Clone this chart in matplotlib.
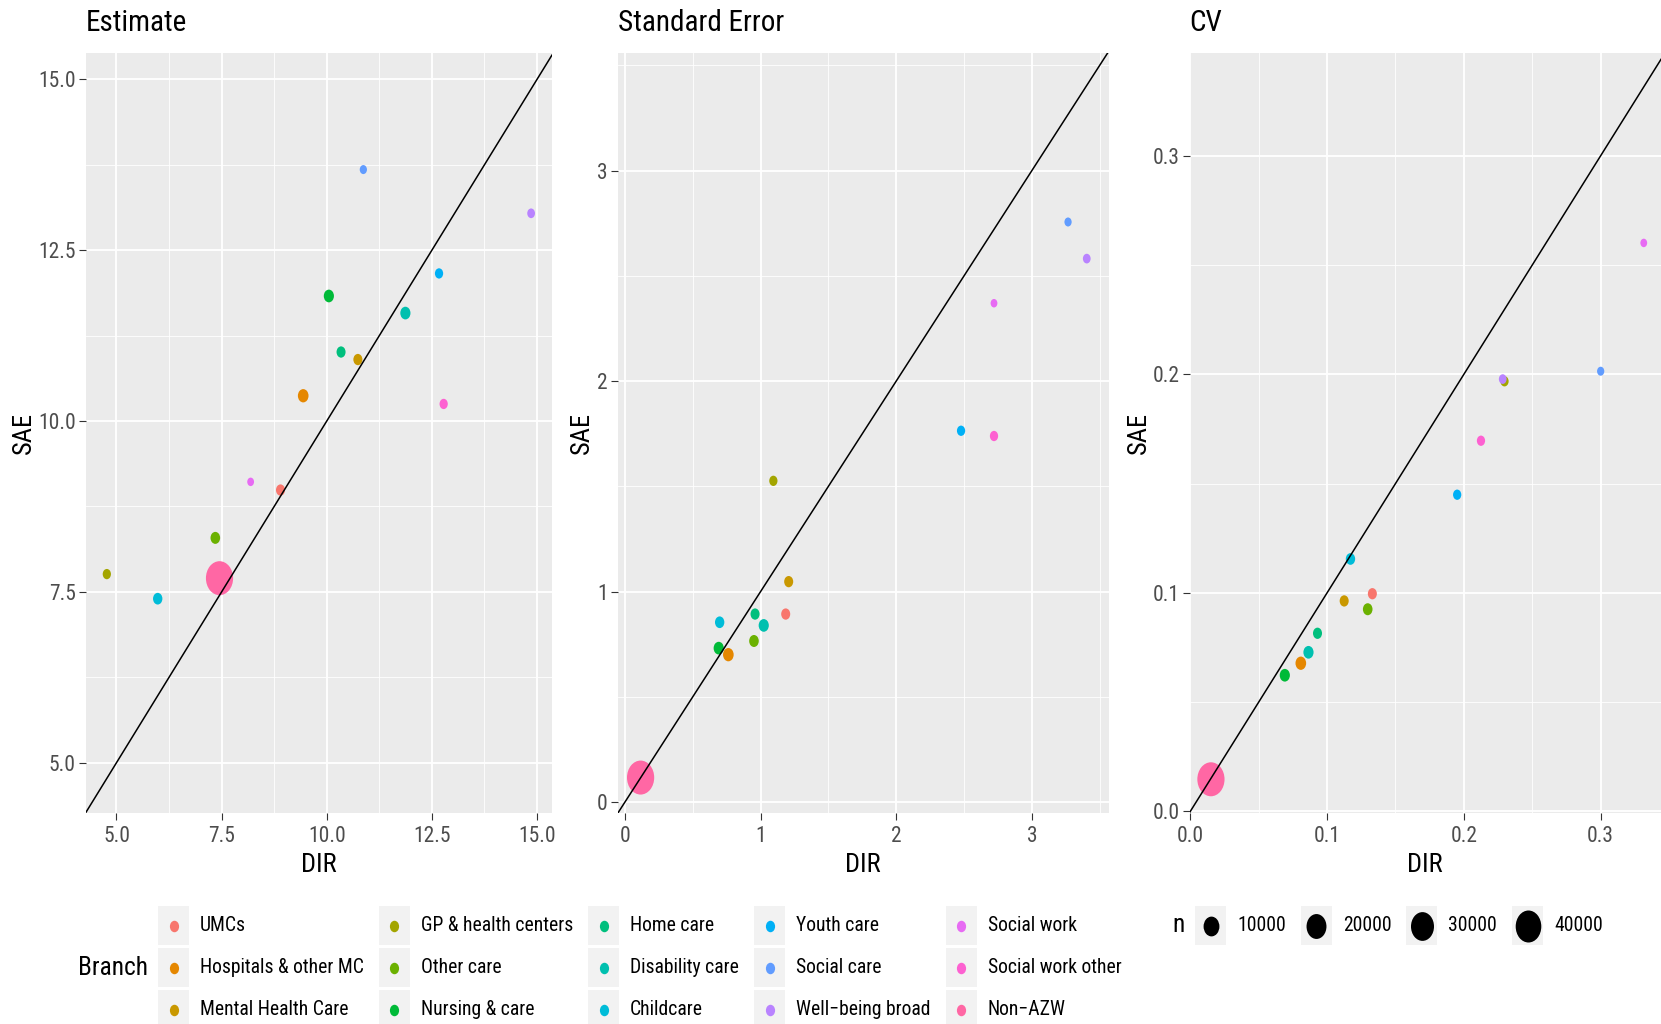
import numpy as np
import matplotlib
matplotlib.use("Agg")
import matplotlib.pyplot as plt
from matplotlib import font_manager
from matplotlib.path import Path
from matplotlib.transforms import Affine2D
from matplotlib.lines import Line2D
from matplotlib.patches import Rectangle
from matplotlib.legend_handler import HandlerBase
from matplotlib.ticker import MultipleLocator, FormatStrFormatter

# data
branches = ["UMCs", "Hospitals & other MC", "Mental Health Care", "GP & health centers",
            "Other care", "Nursing & care", "Home care", "Disability care", "Childcare",
            "Youth care", "Social care", "Well\u2212being broad", "Social work",
            "Social work other", "Non\u2212AZW"]
branch_colors = ["#F8766D", "#E58700", "#C99800", "#A3A500", "#6BB100", "#00BA38", "#00BF7D",
                 "#00C0AF", "#00BCD8", "#00B0F6", "#619CFF", "#B983FF", "#E76BF3",
                 "#FD61D1", "#FF67A4"]
n_obs = [1550, 2630, 1550, 1230, 1870, 2250, 1550, 2250, 1720, 1230, 1020, 1100, 1000, 1230, 46900]

est_dir = [8.90, 9.44, 10.74, 4.77, 7.35, 10.05, 10.34, 11.87, 5.98, 12.67, 10.87, 14.86, 8.19, 12.78, 7.45]
est_sae = [8.99, 10.37, 10.90, 7.76, 8.29, 11.83, 11.01, 11.58, 7.40, 12.16, 13.68, 13.04, 9.11, 10.25, 7.70]

se_dir = [1.185, 0.762, 1.207, 1.094, 0.951, 0.691, 0.959, 1.023, 0.698, 2.478, 3.267, 3.405, 2.721, 2.721, 0.115]
se_sae = [0.893, 0.700, 1.047, 1.526, 0.765, 0.731, 0.893, 0.839, 0.854, 1.764, 2.756, 2.582, 2.370, 1.739, 0.116]

cv_dir = [0.1331, 0.0808, 0.1125, 0.2297, 0.1297, 0.0691, 0.0930, 0.0864, 0.1171, 0.1951, 0.3000, 0.2284, 0.3315, 0.2125, 0.0151]
cv_sae = [0.0996, 0.0678, 0.0963, 0.1968, 0.0925, 0.0623, 0.0815, 0.0728, 0.1155, 0.1449, 0.2014, 0.1978, 0.2601, 0.1696, 0.0147]

size_breaks = [10000, 20000, 30000, 40000]

W, H = 1661, 1024
PX = 72 / 100  # points per pixel at dpi 100

# the reference text is a narrow face; use one if there is one
installed = {f.name for f in font_manager.fontManager.ttflist}
narrow_faces = ['Liberation Sans Narrow', 'Nimbus Sans Narrow', 'Arial Narrow', 'Roboto Condensed',
                'Archivo Narrow', 'PT Sans Narrow']
narrow = next((f for f in narrow_faces if f in installed), None)
if narrow:
    plt.rcParams['font.family'] = [narrow, 'Liberation Sans', 'DejaVu Sans']
    FS_TICK, FS_LEG, FS_AXIS, FS_LTITLE, FS_TITLE = 15.5, 14.1, 19, 18.3, 21
else:
    plt.rcParams['font.family'] = ['Liberation Sans', 'DejaVu Sans']
    FS_TICK, FS_LEG, FS_AXIS, FS_LTITLE, FS_TITLE = 13.5, 13, 16, 16, 18.5

oval = Path.unit_circle().transformed(Affine2D().scale(0.8, 1.0))


def marker_px(n):
    # area-style size scale
    n = np.asarray(n, float)
    f = (n - min(n_obs)) / (max(n_obs) - min(n_obs))
    return 8.5 + 25.5 * np.sqrt(np.clip(f, 0, None))


class KeyHandler(HandlerBase):
    # grey key box with the point in its middle
    def create_artists(self, legend, orig_handle, xdescent, ydescent, width, height, fontsize, trans):
        bg = Rectangle((-xdescent, -ydescent), width, height, facecolor='#F2F2F2',
                       edgecolor='none', transform=trans)
        dot = Line2D([width / 2 - xdescent], [height / 2 - ydescent], linestyle='none',
                     marker=oval, markersize=orig_handle.get_markersize(),
                     markerfacecolor=orig_handle.get_color(), markeredgewidth=0, transform=trans)
        return [bg, dot]


fig = plt.figure(figsize=(W / 100, H / 100), dpi=100)

panels = [
    ("Estimate", est_dir, est_sae, [85.8, 466.1], (4.27, 15.354), (4.271, 15.386), 2.5, '%.1f', -0.1095),
    ("Standard Error", se_dir, se_sae, [617.6, 491.4], (-0.0546, 3.569), (-0.050, 3.559), 1, '%d', -0.051),
    ("CV", cv_dir, cv_sae, [1189.6, 471.4], (-0.0005, 0.3441), (-0.0005, 0.347), 0.1, '%.1f', -0.0844),
]

sizes = (marker_px(n_obs) * PX) ** 2

for title, xs, ys, (left, width), xlim, ylim, step, fmt, ylab_x in panels:
    ax = fig.add_axes([left / W, 1 - 812.5 / H, width / W, 759.5 / H])
    ax.set_facecolor('#EBEBEB')
    for sp in ax.spines.values():
        sp.set_visible(False)
    ax.set_axisbelow(True)
    ax.xaxis.set_major_locator(MultipleLocator(step))
    ax.yaxis.set_major_locator(MultipleLocator(step))
    ax.xaxis.set_minor_locator(MultipleLocator(step / 2))
    ax.yaxis.set_minor_locator(MultipleLocator(step / 2))
    ax.xaxis.set_major_formatter(FormatStrFormatter(fmt))
    ax.yaxis.set_major_formatter(FormatStrFormatter(fmt))
    ax.grid(which='major', color='white', lw=1.3)
    ax.grid(which='minor', color='white', lw=0.6)
    ax.tick_params(which='major', direction='out', length=4.7, width=0.8, color='#333333',
                   labelcolor='#4D4D4D', labelsize=FS_TICK)
    ax.tick_params(axis='x', pad=5.5 - (FS_TICK - 13.5) * 0.3)
    ax.tick_params(axis='y', pad=2.5)
    ax.tick_params(which='minor', length=0)

    ax.scatter(xs, ys, s=sizes, c=branch_colors, marker=oval, linewidths=0, zorder=2)
    ax.axline((0, 0), slope=1, color='black', lw=1.1, zorder=3)

    ax.set_xlim(*xlim)
    ax.set_ylim(*ylim)
    ax.set_title(title, loc='left', fontsize=FS_TITLE, pad=16.5 - (FS_TITLE - 18.5) * 0.36)
    ax.set_xlabel("DIR", fontsize=FS_AXIS, labelpad=6.5 - (FS_AXIS - 16) * 0.7)
    ax.set_ylabel("SAE", fontsize=FS_AXIS)
    ax.yaxis.set_label_coords(ylab_x + (FS_AXIS - 16) * 0.0011, 0.5)

# legend key boxes: 31 x 39 px, 11 px to the label, 15 px between columns
key_w, key_h = 31 * PX / FS_LEG, 39 * PX / FS_LEG
leg_kw = dict(loc='upper left', frameon=False, fontsize=FS_LEG,
              handlelength=key_w, handleheight=(key_h - 0.245) / 0.65,
              handletextpad=11 * PX / FS_LEG, columnspacing=15 * PX / FS_LEG,
              labelspacing=3 * PX / FS_LEG, borderpad=0, borderaxespad=0,
              handler_map={Line2D: KeyHandler()})

branch_handles = [Line2D([], [], linestyle='none', marker=oval, markersize=11.5 * PX, color=c)
                  for c in branch_colors]
fig.legend(branch_handles, branches, ncol=5, bbox_to_anchor=(158 / W, 1 - 906 / H), **leg_kw)
fig.text(78 / W, 1 - 968 / H, "Branch", fontsize=FS_LTITLE, ha='left', va='center')

size_handles = [Line2D([], [], linestyle='none', marker=oval, markersize=marker_px(b) * PX, color='black')
                for b in size_breaks]
fig.legend(size_handles, [str(b) for b in size_breaks], ncol=4,
           bbox_to_anchor=(1195 / W, 1 - 906 / H), **leg_kw)
fig.text(1172 / W, 1 - 925.5 / H, "n", fontsize=FS_LTITLE, ha='left', va='center')

fig.savefig("out.png", dpi=100)
